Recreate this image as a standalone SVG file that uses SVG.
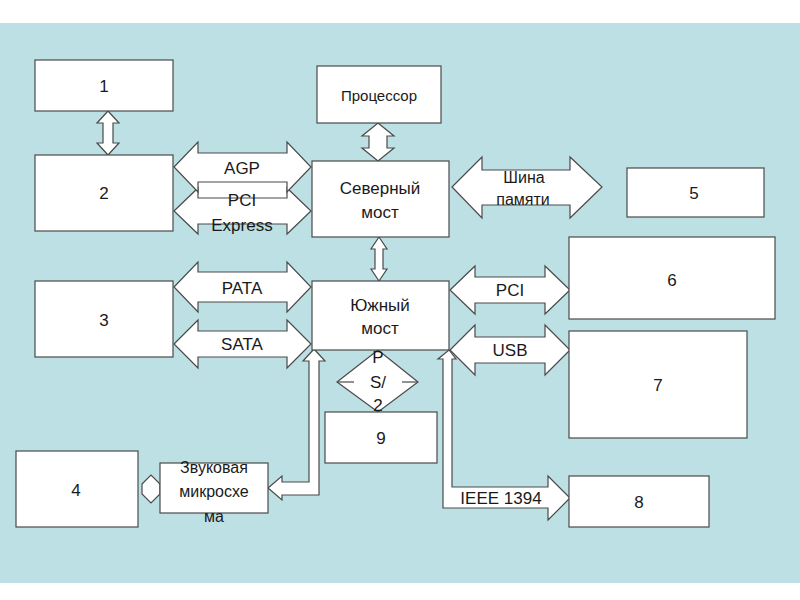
<svg xmlns="http://www.w3.org/2000/svg" width="800" height="600" viewBox="0 0 800 600">
<style>
.box{fill:#fff;stroke:#4a4a4a;stroke-width:1.2}
.arr{fill:#fff;stroke:#4a4a4a;stroke-width:1.2;stroke-linejoin:miter}
text{font-family:"Liberation Sans",Arial,sans-serif;fill:#1a1a1a;text-anchor:middle;dominant-baseline:central}
.big{font-size:17px}
.mid{font-size:17px}
.sm{font-size:16px}
.cpu{font-size:15px}
</style>
<rect x="0" y="0" width="800" height="600" fill="#fff"/>
<rect x="0" y="23" width="800" height="560" fill="#bce0e3"/>

<g id="connectors">
  <rect x="198" y="182" width="89" height="16" fill="#fff"/>
  <path class="arr" d="M174,211 L198,188 L198,198 L287,198 L287,188 L311,211 L287,234 L287,224 L198,224 L198,234 Z"/>
  <path class="arr" d="M174,167 L198,142 L198,153 L287,153 L287,142 L311,167 L287,192 L287,182 L198,182 L198,192 Z"/>
  <path class="arr" d="M452,187 L482,157 L482,170 L570,170 L570,157 L602,187 L570,218 L570,205 L482,205 L482,218 Z"/>
  <path class="arr" d="M174,287 L198,262 L198,272 L287,272 L287,262 L311,287 L287,312 L287,302 L198,302 L198,312 Z"/>
  <path class="arr" d="M174,344 L198,320 L198,331 L287,331 L287,320 L311,344 L287,368 L287,357 L198,357 L198,368 Z"/>
  <path class="arr" d="M450,290 L475,266 L475,277 L545,277 L545,266 L570,290 L545,314 L545,303 L475,303 L475,314 Z"/>
  <path class="arr" d="M450,350 L475,325 L475,337 L545,337 L545,325 L570,350 L545,375 L545,363 L475,363 L475,375 Z"/>
  <path class="arr" d="M108,111 L119,123 L113,123 L113,143 L119,143 L108,155 L97,143 L103,143 L103,123 L97,123 Z"/>
  <path class="arr" d="M378,123 L394,136 L387,136 L387,148 L394,148 L378,161 L362,148 L369,148 L369,136 L362,136 Z"/>
  <path class="arr" d="M379,237 L387,249 L383,249 L383,269 L387,269 L379,281 L371,269 L375,269 L375,249 L371,249 Z"/>
  <path class="arr" d="M449,350 L456,359 L452,359 L452,487 L548,487 L548,476 L570,498 L548,520 L548,508 L443,508 L443,359 L438,359 Z"/>
  <path class="arr" d="M314,349 L325,361 L319,361 L319,495 L282,495 L282,500 L268,488 L282,476 L282,482 L309,482 L309,361 L303,361 Z"/>
  <path class="arr" d="M142,484 L151,475 L160,484 L160,494 L151,503 L142,494 Z"/>
  <path class="arr" d="M378,350 L418,382 L378,412 L337,382 Z"/>
  <line x1="337" y1="382" x2="354" y2="382" stroke="#4a4a4a" stroke-width="1.2"/>
  <line x1="402" y1="382" x2="418" y2="382" stroke="#4a4a4a" stroke-width="1.2"/>
  <text class="mid" x="242" y="168">AGP</text>
  <text class="mid" x="242" y="200">PCI</text>
  <text class="mid" x="242" y="225">Express</text>
  <text class="sm" x="524" y="177">Шина</text>
  <text class="sm" x="523" y="199">памяти</text>
  <text class="mid" x="242" y="288">PATA</text>
  <text class="mid" x="242" y="344">SATA</text>
  <text class="mid" x="510" y="290">PCI</text>
  <text class="mid" x="510" y="350">USB</text>
  <text class="mid" x="501" y="498">IEEE 1394</text>
  <text class="mid" x="378" y="357">P</text>
  <text class="mid" x="378" y="382">S/</text>
  <text class="mid" x="378" y="405">2</text>
</g>

<g id="n1"><rect class="box" x="35" y="60" width="138" height="51"/><text class="big" x="104" y="86">1</text></g>
<g id="n2"><rect class="box" x="35" y="155" width="138" height="76"/><text class="big" x="104" y="193">2</text></g>
<g id="n3"><rect class="box" x="35" y="281" width="138" height="76"/><text class="big" x="104" y="320">3</text></g>
<g id="n4"><rect class="box" x="16" y="451" width="122" height="76"/><text class="big" x="76" y="490">4</text></g>
<g id="cpu"><rect class="box" x="317" y="66" width="124" height="57"/><text class="cpu" x="379" y="95">Процессор</text></g>
<g id="north"><rect class="box" x="312" y="161" width="137" height="76"/><text class="mid" x="380" y="188">Северный</text><text class="mid" x="380" y="212">мост</text></g>
<g id="south"><rect class="box" x="312" y="281" width="137" height="69"/><text class="mid" x="380" y="305">Южный</text><text class="mid" x="380" y="328">мост</text></g>
<g id="n5"><rect class="box" x="627" y="168" width="137" height="49"/><text class="big" x="694" y="193">5</text></g>
<g id="n6"><rect class="box" x="569" y="237" width="206" height="82"/><text class="big" x="672" y="280">6</text></g>
<g id="n7"><rect class="box" x="569" y="331" width="178" height="107"/><text class="big" x="658" y="385">7</text></g>
<g id="n8"><rect class="box" x="569" y="476" width="140" height="51"/><text class="big" x="639" y="502">8</text></g>
<g id="n9"><rect class="box" x="325" y="412" width="112" height="51"/><text class="big" x="381" y="438">9</text></g>
<g id="sound"><rect class="box" x="160" y="463" width="108" height="50"/><text class="sm" x="214" y="467">Звуковая</text><text class="sm" x="214" y="491">микросхе</text><text class="sm" x="214" y="516">ма</text></g>
</svg>
